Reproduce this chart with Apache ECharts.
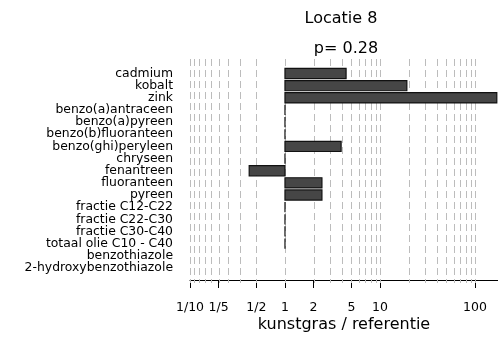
<!DOCTYPE html>
<html>
<head>
<meta charset="utf-8">
<script src="https://cdn.jsdelivr.net/npm/echarts@6/dist/echarts.min.js"></script>
<style>
html,body{margin:0;padding:0;background:#fff;}
#chart{width:498px;height:338px;}
</style>
</head>
<body>
<div id="chart"></div>
<script>
const categories = ['cadmium','kobalt','zink','benzo(a)antraceen','benzo(a)pyreen','benzo(b)fluoranteen','benzo(ghi)peryleen','chryseen','fenantreen','fluoranteen','pyreen','fractie C12-C22','fractie C22-C30','fractie C30-C40','totaal olie C10 - C40','benzothiazole','2-hydroxybenzothiazole'];
const ratios = [4.4, 19.2, 170, 1, 1, 1, 3.9, 1, 0.42, 2.45, 2.45, 1, 1, 1, 1, null, null];
const tickValues = [0.1, 0.2, 0.5, 1, 2, 5, 10, 100];
const tickLabels = ['1/10', '1/5', '1/2', '1', '2', '5', '10', '100'];
const gridValues = [1/10, 1/9, 1/8, 1/7, 1/6, 1/5, 1/4, 1/3, 1/2, 1, 2, 3, 4, 5, 6, 7, 8, 9, 10, 20, 30, 40, 50, 60, 70, 80, 90, 100];
const titleText = 'Locatie 8';
const subText = 'p= 0.28';
const xName = 'kunstgras / referentie';

const FONT = 'DejaVu Sans';
const chart = echarts.init(document.getElementById('chart'), null, {renderer: 'canvas'});

const barData = ratios.map((v, i) => [v, i]).filter(d => d[0] != null);

function labelFor(v) {
  for (let i = 0; i < tickValues.length; i++) {
    if (Math.abs(Math.log10(v) - Math.log10(tickValues[i])) < 1e-6) return tickLabels[i];
  }
  return '';
}

chart.setOption({
  animation: false,
  backgroundColor: '#fff',
  title: [
    {text: titleText, left: 341, top: 11, textAlign: 'center', padding: 0,
     textStyle: {fontFamily: FONT, fontSize: 16, fontWeight: 'normal', color: '#000'}},
    {text: subText, left: 346, top: 41, textAlign: 'center', padding: 0,
     textStyle: {fontFamily: FONT, fontSize: 16, fontWeight: 'normal', color: '#000'}}
  ],
  grid: [
    {left: 190, right: 0, top: 67.4, bottom: 59.8, containLabel: false},
    {left: 190, right: 0, top: 59, bottom: 55, containLabel: false}
  ],
  xAxis: [
    {
      type: 'log', logBase: 10, min: 0.1, max: 175, gridIndex: 0,
      position: 'bottom', offset: 6,
      axisLine: {show: true, lineStyle: {color: '#000', width: 1}},
      axisTick: {show: true, length: 8, customValues: tickValues, lineStyle: {color: '#000', width: 1}},
      axisLabel: {show: true, customValues: tickValues, margin: 21, fontFamily: FONT, fontSize: 12.5, color: '#000',
        formatter: function (v) { return labelFor(v); }},
      splitLine: {show: false},
      minorTick: {show: false},
      name: xName, nameLocation: 'middle', nameGap: 37, nameMoveOverlap: false,
      nameTextStyle: {fontFamily: FONT, fontSize: 16, color: '#000'}
    },
    {
      type: 'log', logBase: 10, min: 0.1, max: 175, gridIndex: 1, show: false,
      splitLine: {show: false}
    }
  ],
  yAxis: [
    {
      type: 'category', data: categories, inverse: true, gridIndex: 0,
      axisLine: {show: false}, axisTick: {show: false}, splitLine: {show: false},
      axisLabel: {margin: 17, fontFamily: FONT, fontSize: 12.4, color: '#000', interval: 0}
    },
    {type: 'value', min: 0, max: 1, gridIndex: 1, show: false, splitLine: {show: false}}
  ],
  series: [
    {
      type: 'custom', xAxisIndex: 1, yAxisIndex: 1, z: 1, silent: true,
      data: gridValues.map(v => [v, 0]),
      encode: {x: 0, y: 1},
      renderItem: function (params, api) {
        const cs = params.coordSys;
        const x = Math.round(api.coord([api.value(0), 0])[0]) + 0.5;
        return {type: 'line', shape: {x1: x, y1: cs.y, x2: x, y2: cs.y + cs.height},
          style: {stroke: '#bcbcbc', lineWidth: 1, lineDash: [7, 4]}};
      }
    },
    {
      type: 'custom', xAxisIndex: 0, yAxisIndex: 0, z: 3, silent: true,
      data: barData,
      encode: {x: 0, y: 1},
      renderItem: function (params, api) {
        const v = api.value(0);
        const idx = api.value(1);
        const p0 = api.coord([1, idx]);
        const p1 = api.coord([v, idx]);
        const h = api.size([0, 1])[1] * 0.84;
        return {type: 'rect',
          shape: {x: Math.min(p0[0], p1[0]), y: p0[1] - h / 2, width: Math.abs(p1[0] - p0[0]), height: h},
          style: {fill: '#464646', stroke: '#111', lineWidth: 1.2}};
      }
    }
  ]
});
</script>
</body>
</html>
